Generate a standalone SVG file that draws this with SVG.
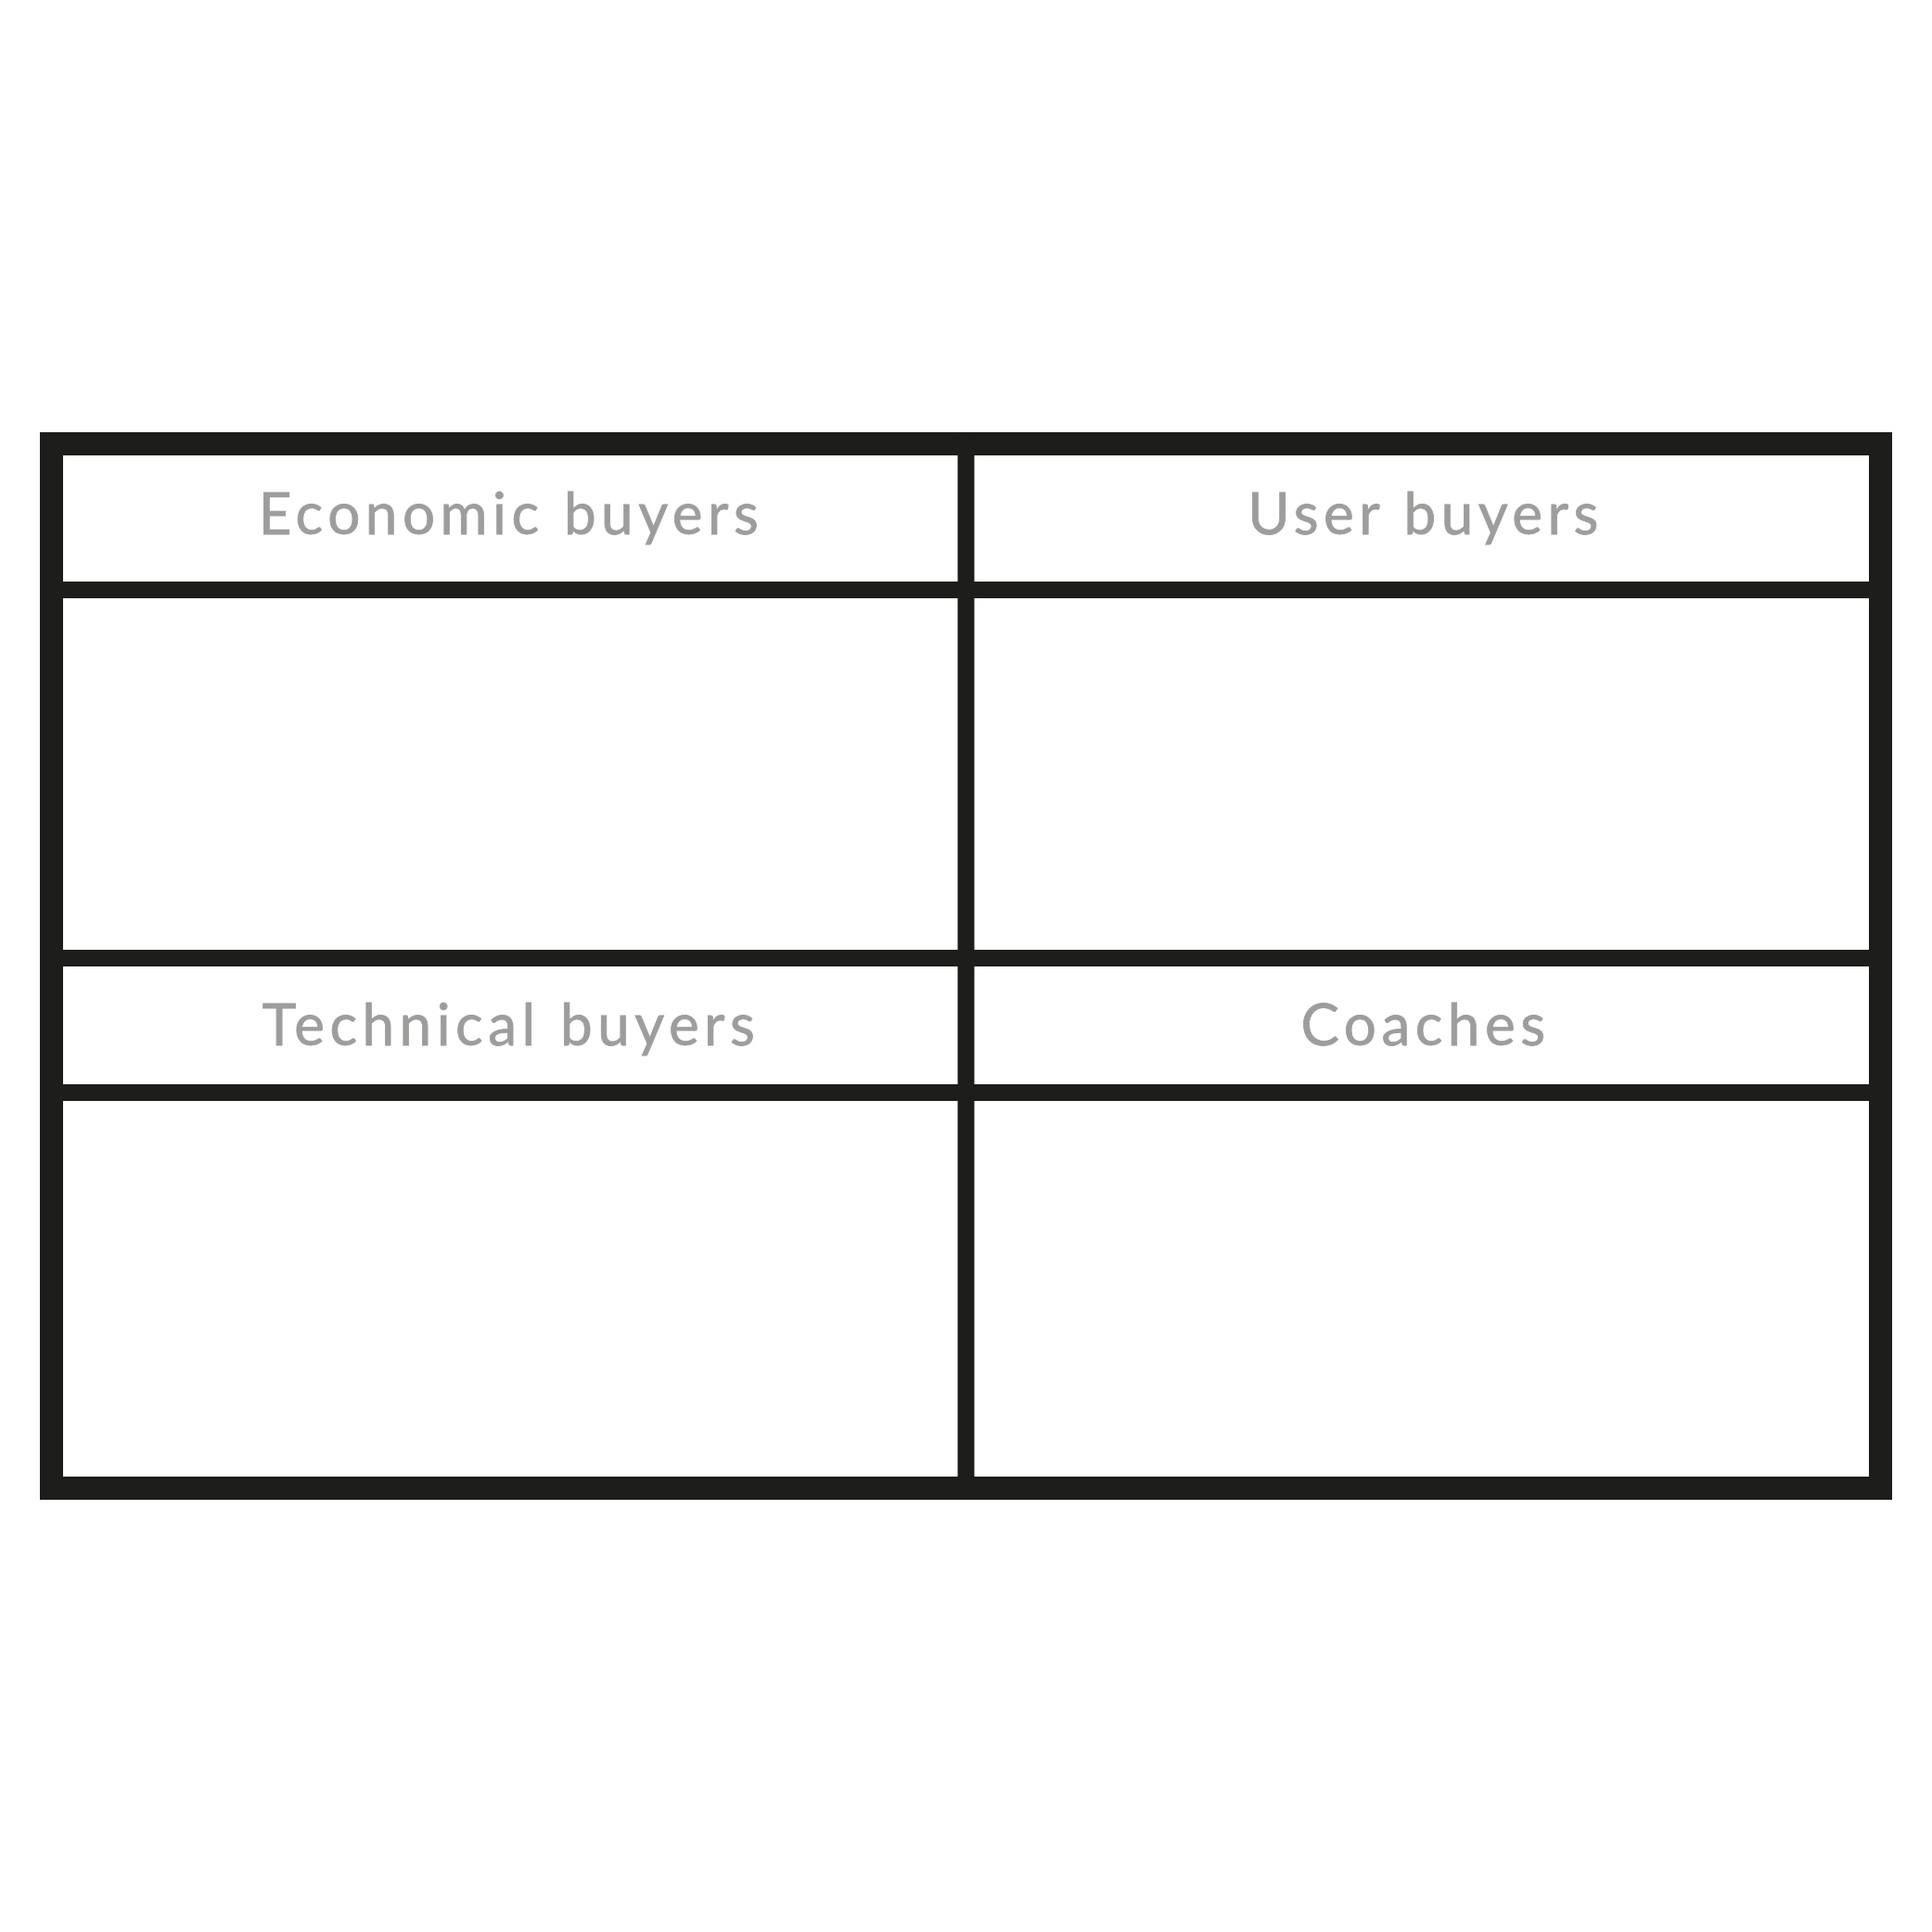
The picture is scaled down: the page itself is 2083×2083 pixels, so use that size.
<svg xmlns="http://www.w3.org/2000/svg" width="2083" height="2083" viewBox="0 0 2083 2083">
<style>
.frame{fill:none;stroke:#1d1d1b;stroke-width:25}
.div{stroke:#1d1d1b;stroke-width:18}
.lbl{font-family:"Lato","Liberation Sans",sans-serif;font-size:62px;fill:#9d9d9c;text-anchor:middle;letter-spacing:5.5px;stroke:#9d9d9c;stroke-width:0.8}
</style>
<rect width="2083" height="2083" fill="#ffffff"/>
<g id="grid">
<rect class="frame" x="55.5" y="478.5" width="1972" height="1126"/>
<line class="div" x1="47" y1="636" x2="2036" y2="636"/>
<line class="div" x1="47" y1="1033" x2="2036" y2="1033"/>
<line class="div" x1="47" y1="1178" x2="2036" y2="1178"/>
<line class="div" x1="1041.5" y1="470" x2="1041.5" y2="1600"/>
</g>
<g id="economic-buyers"><text class="lbl" x="551" y="576">Economic buyers</text></g>
<g id="user-buyers"><text class="lbl" x="1537" y="576">User buyers</text></g>
<g id="technical-buyers"><text class="lbl" x="551" y="1127">Technical buyers</text></g>
<g id="coaches"><text class="lbl" x="1537" y="1127">Coaches</text></g>
</svg>
